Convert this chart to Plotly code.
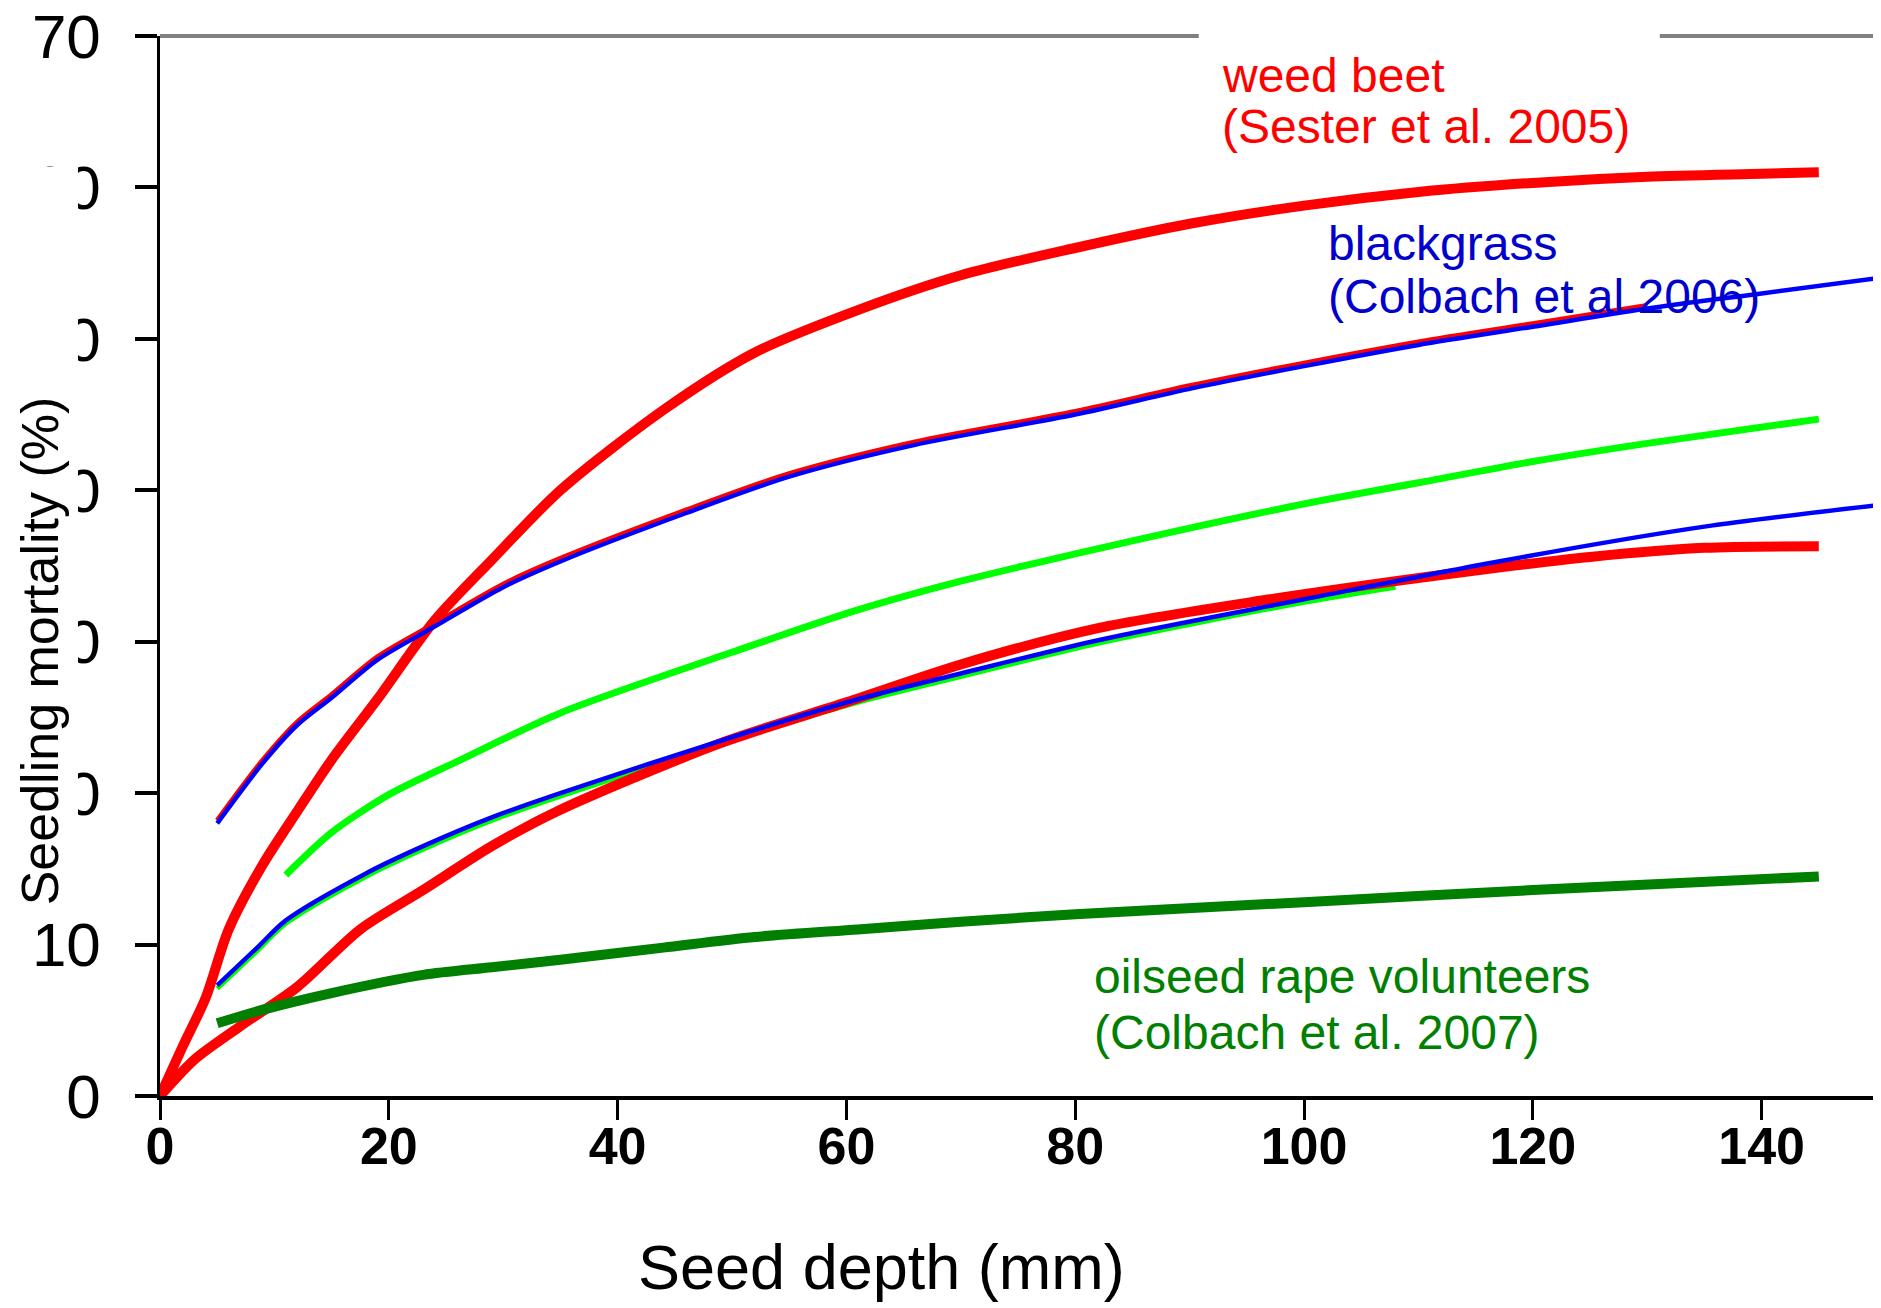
import plotly.graph_objects as go

# seed depth (mm) / seedling mortality (%)

# weed beet (Sester et al. 2005) - two thick red curves
beet_hi_x = [0, 2, 4, 6, 9, 12, 15, 19, 24, 29, 35, 44, 52, 61, 70, 80, 90, 100, 110, 120, 130, 140, 145]
beet_hi_y = [0, 3.3, 6.5, 11.0, 15.3, 18.8, 22.2, 26.2, 31.4, 35.4, 40.0, 45.3, 49.1, 51.9, 54.2, 56.0,
             57.6, 58.8, 59.7, 60.3, 60.7, 60.9, 61.0]
beet_lo_x = [0, 3, 7, 12, 17.5, 23, 29, 35, 49, 60, 70, 82, 97, 108, 117, 125, 135, 145]
beet_lo_y = [0, 2.4, 4.6, 7.2, 11.0, 13.6, 16.5, 18.9, 23.3, 26.0, 28.5, 30.9, 32.8, 34.0, 34.9, 35.6, 36.2, 36.3]
# thin red curve hidden under the upper blackgrass curve
beet_mid_x = [5, 9, 12, 15, 19, 24, 30, 35, 46, 55, 66, 80, 90, 100, 110, 120, 130]
beet_mid_y = [18.2, 22.2, 24.7, 26.5, 29.0, 31.2, 33.8, 35.5, 38.7, 41.1, 43.2, 45.2, 46.9, 48.4, 49.8, 51.0, 52.2]

# blackgrass (Colbach et al 2006)
grass_hi_x = [5, 9, 12, 15, 19, 24, 30, 35, 46, 55, 66, 80, 90, 100, 110, 120, 130, 140, 150]
grass_hi_y = [18.0, 22.0, 24.5, 26.3, 28.8, 31.0, 33.6, 35.3, 38.5, 40.9, 43.0, 45.0, 46.7, 48.2,
              49.6, 50.8, 52.0, 53.0, 54.0]
grass_lo_x = [5, 8.5, 11, 18, 23, 29, 35, 50, 61, 70, 82, 100, 117, 135, 150]
grass_lo_y = [7.3, 9.8, 11.6, 14.7, 16.5, 18.4, 20.0, 23.7, 26.2, 27.9, 30.1, 32.8, 35.3, 37.6, 39.0]

# light green curves
lgreen_hi_x = [11, 15, 20, 26, 35, 50, 61, 70, 80, 90, 100, 110, 120, 130, 145]
lgreen_hi_y = [14.6, 17.4, 19.9, 22.1, 25.3, 29.3, 32.1, 34.0, 35.8, 37.5, 39.1, 40.5, 41.9, 43.1, 44.7]
lgreen_lo_x = [5, 8.5, 11, 18, 23, 29, 35, 50, 61, 70, 82, 100, 108]
lgreen_lo_y = [7.1, 9.6, 11.4, 14.5, 16.3, 18.2, 19.8, 23.5, 26.0, 27.7, 29.9, 32.6, 33.6]

# oilseed rape volunteers (Colbach et al. 2007)
rape_x = [5, 9, 15, 23, 29, 35, 44, 52, 61, 70, 80, 100, 120, 145]
rape_y = [4.8, 5.7, 6.8, 8.0, 8.5, 9.0, 9.8, 10.5, 11.0, 11.5, 12.0, 12.8, 13.6, 14.5]

y_ticks = [0, 10, 20, 30, 40, 50, 60, 70]
x_ticks = [0, 20, 40, 60, 80, 100, 120, 140]
x_max = 150
y_max = 70
# label box that interrupts the top frame line (x data range)
gap_x = [90.8, 131.1]

fig = go.Figure()


def add_line(x, y, color, width):
    fig.add_trace(go.Scatter(x=x, y=y, mode='lines',
                             line=dict(color=color, width=width, shape='spline', smoothing=0.8),
                             hoverinfo='skip', showlegend=False))


add_line(beet_mid_x, beet_mid_y, '#ff0000', 5)
add_line(lgreen_lo_x, lgreen_lo_y, '#00ff00', 5)
add_line(beet_hi_x, beet_hi_y, '#ff0000', 10)
add_line(beet_lo_x, beet_lo_y, '#ff0000', 10)
add_line(rape_x, rape_y, '#007f00', 10)
add_line(lgreen_hi_x, lgreen_hi_y, '#00ff00', 7)
add_line(grass_hi_x, grass_hi_y, '#0000ff', 4.5)
add_line(grass_lo_x, grass_lo_y, '#0000ff', 4.5)

# frame: grey top (broken by the label) and right lines
frame = dict(color='#808080', width=4)
shapes = [
    dict(type='line', xref='paper', yref='paper', x0=0, x1=gap_x[0] / x_max, y0=1, y1=1, line=frame),
    dict(type='line', xref='paper', yref='paper', x0=gap_x[1] / x_max, x1=1, y0=1, y1=1, line=frame),
    dict(type='line', xref='paper', yref='paper', x0=1, x1=1, y0=0, y1=1, line=frame),
    # white patch hiding most of the y tick labels, as in the original
    dict(type='rect', xref='paper', yref='paper', x0=-0.0935, x1=-0.0478, y0=0.174, y1=0.8764,
         fillcolor='white', line=dict(width=0), layer='above'),
]

label_font = 'Liberation Sans, Arial, sans-serif'
annotations = [
    dict(text='weed beet', x=92.7, y=67.4, color='#ff0000'),
    dict(text='(Sester et al. 2005)', x=92.7, y=64.0, color='#ff0000'),
    dict(text='blackgrass', x=101.9, y=56.3, color='#0000cc'),
    dict(text='(Colbach et al 2006)', x=101.9, y=52.8, color='#0000cc'),
    dict(text='oilseed rape volunteers', x=81.5, y=7.9, color='#008000'),
    dict(text='(Colbach et al. 2007)', x=81.5, y=4.2, color='#008000'),
]
annos = []
for a in annotations:
    annos.append(dict(text=a['text'], x=a['x'], y=a['y'], xref='x', yref='y', showarrow=False,
                      xanchor='left', yanchor='middle',
                      font=dict(family=label_font, size=48, color=a['color'])))

annos.append(dict(text='Seedling mortality (%)', x=-0.0702, y=0.42, xref='paper', yref='paper',
                  showarrow=False, textangle=-90, xanchor='center', yanchor='middle',
                  font=dict(family=label_font, size=52, color='black')))
annos.append(dict(text='Seed depth (mm)', x=0.4207, y=-0.161, xref='paper', yref='paper',
                  showarrow=False, xanchor='center', yanchor='middle',
                  font=dict(family=label_font, size=63, color='black')))

# the page body has an 8px margin, so the figure is 8px smaller than the window
fig.update_layout(
    template='none',
    width=1873, height=1300,
    margin=dict(l=152, r=5, t=28, b=212),
    paper_bgcolor='white', plot_bgcolor='white',
    shapes=shapes, annotations=annos,
    showlegend=False,
)
fig.update_xaxes(range=[0, x_max], tickvals=x_ticks, showgrid=False, zeroline=False, automargin=False,
                 showline=True, linecolor='black', linewidth=4,
                 ticks='outside', ticklen=20, tickwidth=3, tickcolor='black',
                 ticklabelstandoff=-18, ticklabeloverflow='allow',
                 tickfont=dict(family=label_font, size=52, color='black', weight='bold'))
fig.update_yaxes(range=[0, y_max], tickvals=y_ticks, showgrid=False, zeroline=False, automargin=False,
                 showline=True, linecolor='black', linewidth=2.5,
                 ticks='outside', ticklen=22, tickwidth=4, tickcolor='black',
                 ticklabelstandoff=22, ticklabeloverflow='allow',
                 tickfont=dict(family=label_font, size=62, color='black'))

fig.write_html("out.html")
